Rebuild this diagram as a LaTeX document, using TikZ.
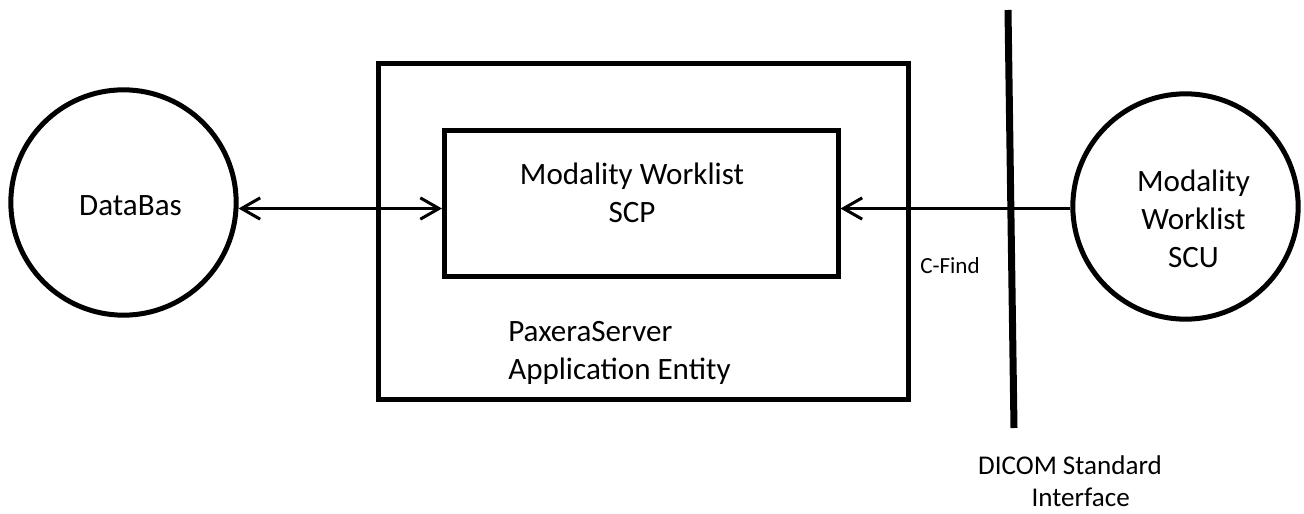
\documentclass[tikz,border=0pt]{standalone}
\usepackage{fontspec}
\setmainfont{Carlito}
\usetikzlibrary{arrows.meta,fit}
\begin{document}
\begin{tikzpicture}[x=0.75pt,y=-0.75pt,
  >={Straight Barb[length=14pt,width=16pt]},
  ring/.style={circle,draw,line width=3.75pt,minimum size=169pt,inner sep=0pt},
  frame/.style={rectangle,draw,line width=3.75pt,inner sep=0pt},
  link/.style={line width=2.25pt},
  txt/.style={inner sep=0pt,font=\fontsize{23.3}{28.5}\selectfont},
  small/.style={inner sep=0pt,font=\fontsize{17.3}{20}\selectfont}]
 \useasboundingbox (0,0) rectangle (1304,514);

 % the two end points
 \node[ring] (db) at (123.5,202.5) {};
 \node[ring] (mwl) at (1185.5,206.5) {};
 \node[txt,anchor=base] (dbtxt) at (130.5,215) {DataBas};
 \node[txt,anchor=base,align=center] (mwltxt) at (1193.5,267) {Modality\\Worklist\\SCU};

 % server boxes
 \node[frame,fit={(378,63.5) (908.5,399.5)}] (ae) {};
 \node[frame,fit={(444.5,130.5) (838,276.5)}] (scp) {};
 \node[txt,anchor=base,align=center] (scptxt) at (632,222) {Modality Worklist\\SCP};
 \node[txt,anchor=base west,align=left] (aetxt) at (508,379) {PaxeraServer\\Application Entity};

 % connectors
 \draw[link,<->] (db.-3) -- (db.-3 -| scp.west);
 \draw[link,->] (mwl.181) -- (mwl.181 -| scp.east);
 \node[small,anchor=base west] (cfind) at (920,273) {C-Find};

 % interface line
 \coordinate (itop) at (1008,10);
 \coordinate (ibot) at (1014,428);
 \draw[line width=5.25pt] (itop) -- (ibot);
 \node[inner sep=0pt,anchor=base,align=center,font=\fontsize{20.3}{24}\selectfont] (itxt) at (1070,506) {DICOM Standard\\\hspace*{16pt}Interface};
\end{tikzpicture}
\end{document}
